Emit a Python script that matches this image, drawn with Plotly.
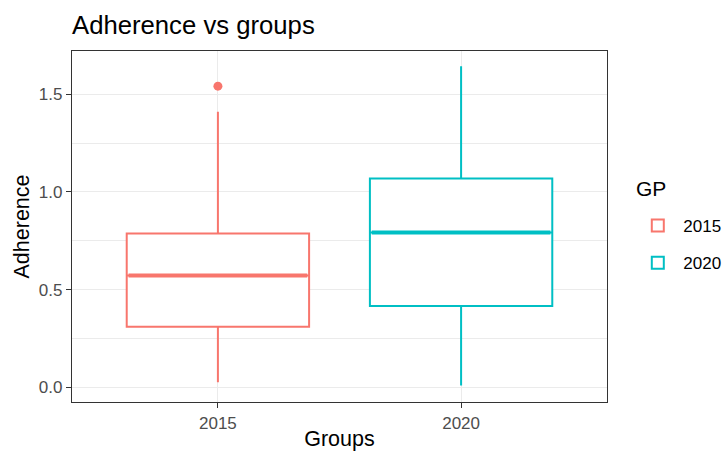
import plotly.graph_objects as go

groups = ["2015", "2020"]
colors = ["#F8766D", "#00BFC4"]
q1 = [0.310, 0.417]
median = [0.572, 0.792]
q3 = [0.787, 1.069]
lower = [0.026, 0.010]
upper = [1.410, 1.643]
outlier_group = ["2015"]
outlier_value = [1.541]

FONT = "Liberation Sans, Arial, sans-serif"
L, R, T, B = 71.7, 606.7, 50.7, 402.3
W, H = 722, 451

fig = go.Figure()
for i, g in enumerate(groups):
    fig.add_trace(go.Box(
        x=[g], q1=[q1[i]], median=[median[i]], q3=[q3[i]],
        lowerfence=[lower[i]], upperfence=[upper[i]],
        name=g, legendgroup=g,
        line=dict(color=colors[i], width=2),
        fillcolor="white", width=0.75, whiskerwidth=0,
        boxpoints=False,
    ))
    # thicker median line (ggplot fatten)
    fig.add_trace(go.Box(
        x=[g], q1=[median[i]], median=[median[i]], q3=[median[i]],
        lowerfence=[median[i]], upperfence=[median[i]],
        name=g, legendgroup=g, showlegend=False, hoverinfo="skip",
        line=dict(color=colors[i], width=4),
        fillcolor="rgba(0,0,0,0)", width=0.735, whiskerwidth=0,
        boxpoints=False,
    ))

fig.add_trace(go.Scatter(
    x=outlier_group, y=outlier_value, mode="markers",
    marker=dict(color=colors[0], size=9),
    showlegend=False, hoverinfo="skip",
))

pw = R - L
fig.update_layout(
    width=W, height=H,
    margin=dict(l=L, r=W - R, t=T, b=H - B, autoexpand=False),
    paper_bgcolor="white", plot_bgcolor="white",
    boxmode="overlay",
    font=dict(family=FONT, color="black"),
    title=dict(text="Adherence vs groups", x=0, xref="paper", xanchor="left",
               y=1 - 25 / H, yref="container", yanchor="middle",
               font=dict(size=25.7, color="black", family=FONT)),
    legend=dict(font=dict(size=17, color="black"),
                x=(632 - L) / pw, xanchor="left",
                y=(B - 208) / (B - T), yanchor="top",
                tracegroupgap=12, bgcolor="rgba(0,0,0,0)", itemwidth=41),
    annotations=[dict(text="GP", xref="paper", yref="paper",
                      x=(634 - L) / pw, y=(B - 188) / (B - T),
                      xanchor="left", yanchor="middle", showarrow=False,
                      font=dict(size=21, color="black", family=FONT))],
    showlegend=True,
)

fig.update_xaxes(
    type="category", categoryorder="array", categoryarray=groups,
    range=[-0.6, 1.6], automargin=False,
    showgrid=True, gridcolor="#EBEBEB", gridwidth=1.1,
    showline=True, mirror=True, linecolor="#333333", linewidth=1.3,
    ticks="outside", ticklen=5, tickwidth=1.3, tickcolor="#333333",
    tickfont=dict(size=17, color="#4D4D4D", family=FONT),
    title=dict(text="Groups", font=dict(size=21.5, color="black", family=FONT), standoff=9),
    zeroline=False,
)
fig.update_yaxes(
    range=[-0.0746, 1.721], automargin=False,
    tickvals=[0, 0.5, 1.0, 1.5], ticktext=["0.0", "0.5", "1.0", "1.5"],
    showgrid=True, gridcolor="#EBEBEB", gridwidth=1.1,
    minor=dict(tickvals=[0.25, 0.75, 1.25], showgrid=True, gridcolor="#EBEBEB",
               gridwidth=0.6, ticks=""),
    showline=True, mirror=True, linecolor="#333333", linewidth=1.3,
    ticks="outside", ticklen=5, tickwidth=1.3, tickcolor="#333333",
    tickfont=dict(size=17, color="#4D4D4D", family=FONT),
    title=dict(text="Adherence", font=dict(size=21.5, color="black", family=FONT), standoff=3),
    zeroline=False,
)

fig.write_html("out.html", config={"displayModeBar": False},
               post_script="document.body.style.margin='0';document.body.style.overflow='hidden';")
